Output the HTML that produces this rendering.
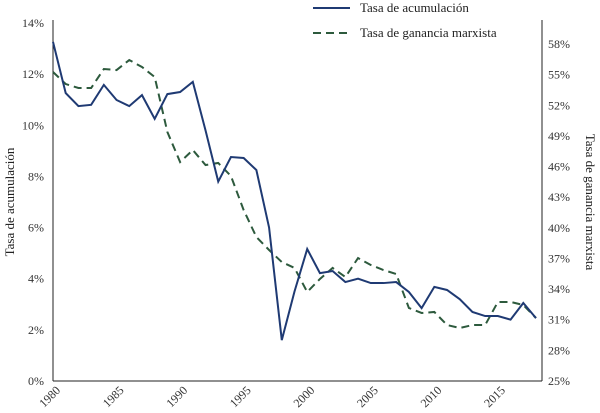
<!DOCTYPE html>
<html><head><meta charset="utf-8"><style>
html,body{margin:0;padding:0;background:#fff;}
svg{display:block;font-family:"Liberation Serif",serif;}
</style></head><body>
<svg id="chart" width="600" height="413">
<g id="axes"></g><g id="series"></g>
<g>
<line x1="313" y1="8" x2="350" y2="8" stroke="#1f3a73" stroke-width="2"/>
<text x="360" y="12" font-size="13" fill="#222">Tasa de acumulación</text>
<line x1="313" y1="33" x2="350" y2="33" stroke="#2d5a3d" stroke-width="2" stroke-dasharray="8,5"/>
<text x="360" y="37" font-size="13" fill="#222">Tasa de ganancia marxista</text>
</g>
<text transform="translate(14,202) rotate(-90)" text-anchor="middle" font-size="13" fill="#222">Tasa de acumulación</text>
<text transform="translate(586,202) rotate(90)" text-anchor="middle" font-size="13" fill="#222">Tasa de ganancia marxista</text>
</svg>
<script>
const years=[1980,1981,1982,1983,1984,1985,1986,1987,1988,1989,1990,1991,1992,1993,1994,1995,1996,1997,1998,1999,2000,2001,2002,2003,2004,2005,2006,2007,2008,2009,2010,2011,2012,2013,2014,2015,2016,2017,2018];
const acumulacion=[13.26,11.26,10.75,10.8,11.58,10.99,10.75,11.18,10.25,11.22,11.3,11.7,9.8,7.8,8.76,8.72,8.25,6.0,1.6,3.5,5.16,4.22,4.3,3.87,4.0,3.83,3.83,3.87,3.48,2.85,3.68,3.56,3.2,2.7,2.54,2.54,2.4,3.05,2.46];
const ganancia=[55.26,54.08,53.69,53.69,55.55,55.45,56.43,55.75,54.77,49.38,46.44,47.62,46.15,46.35,45.07,41.74,39.1,37.83,36.65,36.07,33.72,34.99,36.07,35.18,37.04,36.36,35.87,35.48,32.15,31.66,31.76,30.48,30.19,30.48,30.48,32.74,32.74,32.44,31.17];
const leftTicks=[0,2,4,6,8,10,12,14];
const rightTicks=[25,28,31,34,37,40,43,46,49,52,55,58];
const xTicks=[1980,1985,1990,1995,2000,2005,2010,2015];
const NS="http://www.w3.org/2000/svg";
const X0=53,X1=542,YB=381,YT=23;
const x=y=>X0+(y-1980)*(536-53)/38;
const yl=v=>YB-(v/14)*(YB-YT);
const yr=v=>YB-((v-25)/33)*(YB-44);
function mk(t,a,p){const e=document.createElementNS(NS,t);for(const k in a)e.setAttribute(k,a[k]);p.appendChild(e);return e;}
const ax=document.getElementById('axes'),se=document.getElementById('series');
let l=mk('line',{x1:X0,y1:YT-3,x2:X0,y2:YB,stroke:'#222','stroke-width':1},ax);


l=mk('line',{x1:X1,y1:YT-3,x2:X1,y2:YB,stroke:'#222','stroke-width':1},ax);


l=mk('line',{x1:X0,y1:YB,x2:X1,y2:YB,stroke:'#222','stroke-width':1},ax);


leftTicks.forEach(v=>{const t=mk('text',{x:44,y:yl(v)+4,'text-anchor':'end','font-size':12,fill:'#333'},ax);t.textContent=v+'%';

});
rightTicks.forEach(v=>{const t=mk('text',{x:548,y:yr(v)+4,'font-size':12,fill:'#333'},ax);t.textContent=v+'%';

});
xTicks.forEach(v=>{const t=mk('text',{transform:`translate(${x(v)+8},${YB+10}) rotate(-45)`,'text-anchor':'end','font-size':12,fill:'#333'},ax);t.textContent=v;

});
let p=mk('polyline',{points:years.map((y,i)=>x(y)+','+yr(ganancia[i])).join(' '),fill:'none',stroke:'#2d5a3d','stroke-width':2,'stroke-dasharray':'8,5'},se);


p=mk('polyline',{points:years.map((y,i)=>x(y)+','+yl(acumulacion[i])).join(' '),fill:'none',stroke:'#1f3a73','stroke-width':2},se);


</script>
</body></html>
